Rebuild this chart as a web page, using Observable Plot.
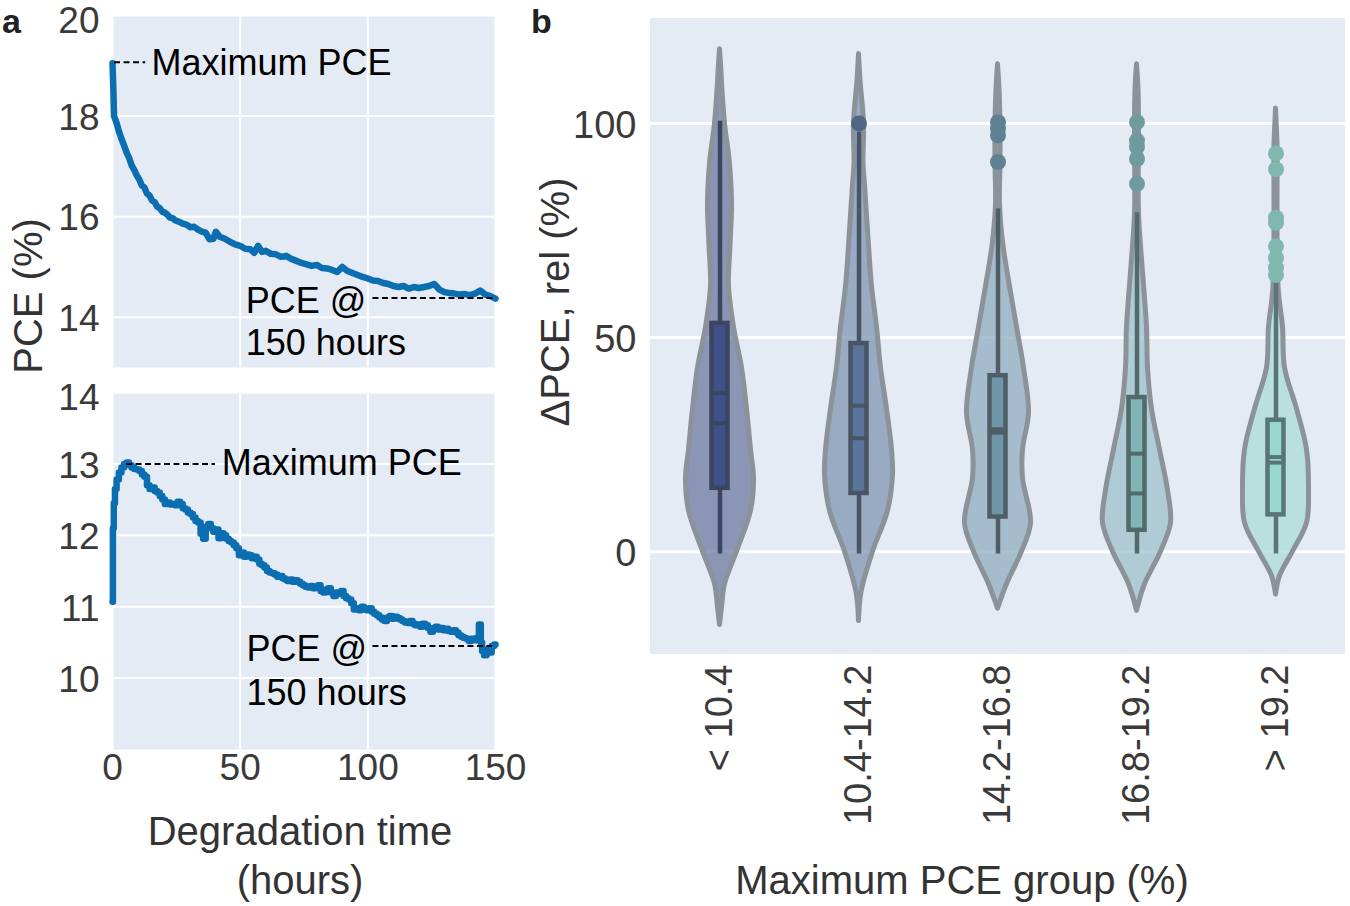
<!DOCTYPE html>
<html>
<head>
<meta charset="utf-8">
<script src="https://cdn.jsdelivr.net/npm/d3@7"></script>
<script src="https://cdn.jsdelivr.net/npm/@observablehq/plot@0.6"></script>
<style>
  body { margin: 0; background: white; }
  #wrap { position: relative; width: 1350px; height: 906px; background: white; overflow: hidden;
          font-family: "Liberation Sans", Arial, sans-serif; color: #333; }
  .lbl { position: absolute; white-space: nowrap; line-height: 1; transform: translate(-50%, -50%); font-size: 40px; }
  .rot { transform: translate(-50%, -50%) rotate(-90deg); }
  .panel { position: absolute; font-weight: bold; font-size: 34px; color: #222; line-height: 1; }
</style>
</head>
<body>
<div id="wrap">
  <div class="panel" style="left:2px; top:4px;">a</div>
  <div class="panel" style="left:531px; top:4px;">b</div>
  <div class="lbl rot" style="left:28px; top:296px;">PCE (%)</div>
  <div class="lbl" style="left:300px; top:831px;">Degradation time</div>
  <div class="lbl" style="left:300px; top:880px;">(hours)</div>
  <div class="lbl rot" style="left:555px; top:302px;">ΔPCE, rel (%)</div>
  <div class="lbl" style="left:962px; top:880px;">Maximum PCE group (%)</div>
</div>
<script>
// ---------------- Panel a data ----------------
const topTime = [0,0.3,0.6,1.5,2.5,3.5,4.5,5.5,6.5,7.5,8.5,9.5,10.5,11.5,12.5,13.5,14.5,15.5,16.5,17.5,18.5,19.5,20.5,21.5,22.5,23.5,24.5,26,27.5,29,30.5,32,33.5,35,36.5,38,39.5,40.5,42,44,46,48,50,52,54,55.5,57,58.5,60,62,64,66,68,70,72,74,76,78,80,82,84,86,88,90,92,94,96,98,100,102,104,106,108,110,112,114,116,118,120,122,124,126,128,130,132,134,136,138,140,142,144,146,148,150];
const topPCE = [19.05,18.6,18.0,17.88,17.7,17.55,17.42,17.28,17.17,17.02,16.93,16.82,16.74,16.62,16.58,16.46,16.42,16.32,16.29,16.2,16.17,16.1,16.08,16.04,15.98,15.97,15.93,15.9,15.86,15.84,15.79,15.8,15.74,15.7,15.68,15.55,15.56,15.7,15.6,15.56,15.5,15.45,15.42,15.36,15.35,15.28,15.42,15.3,15.32,15.26,15.25,15.2,15.22,15.16,15.12,15.08,15.05,15.02,15.04,14.98,14.97,14.94,14.9,15.0,14.92,14.88,14.84,14.8,14.77,14.73,14.72,14.68,14.66,14.62,14.6,14.62,14.57,14.6,14.58,14.6,14.62,14.66,14.55,14.5,14.48,14.47,14.45,14.46,14.44,14.47,14.53,14.45,14.42,14.37];

const botTime = [0,0.3,0.7,1.2,2,3,4,5,6,7,8,9,10,11,12,13,14,15,16,17,18,19,20,21,22,23,24,25,26,27,28,29,30,31,32,33,34,35,36,37,38,39,40,41,42,43,44,45,46,47,48,49,50,51,52,53,54,55,56,57,58,59,60,61,62,63,64,65,66,67,68,69,70,71,72,73,74,75,76,77,78,79,80,81,82,83,84,85,86,87,88,89,90,91,92,93,94,95,96,97,98,99,100,101,102,103,104,105,106,107,108,109,110,111,112,113,114,115,116,117,118,119,120,121,122,123,124,125,126,127,128,129,130,131,132,133,134,135,136,137,138,139,140,141,142,143,144,144.5,145,146,147,148,149,150];
const botPCE = [11.07,12.1,12.45,12.65,12.78,12.88,12.95,13.0,13.02,12.98,12.95,12.93,12.92,12.9,12.85,12.82,12.7,12.65,12.67,12.62,12.6,12.55,12.5,12.44,12.46,12.43,12.44,12.42,12.47,12.44,12.38,12.36,12.32,12.3,12.25,12.2,12.18,12.02,11.95,12.12,12.16,12.1,12.05,12.08,11.96,12.03,12.0,11.95,11.92,11.9,11.86,11.82,11.72,11.76,11.7,11.73,11.72,11.68,11.7,11.66,11.6,11.58,11.55,11.5,11.48,11.47,11.45,11.42,11.43,11.4,11.38,11.36,11.38,11.35,11.37,11.35,11.32,11.3,11.28,11.27,11.29,11.26,11.28,11.3,11.22,11.2,11.24,11.26,11.2,11.15,11.2,11.18,11.22,11.15,11.12,11.1,11.05,10.96,10.98,10.95,11.0,10.97,10.95,10.98,10.93,10.9,10.88,10.85,10.82,10.8,10.85,10.87,10.83,10.86,10.84,10.82,10.8,10.78,10.77,10.8,10.76,10.74,10.75,10.72,10.76,10.74,10.7,10.65,10.7,10.72,10.68,10.7,10.67,10.69,10.66,10.65,10.67,10.64,10.6,10.58,10.56,10.55,10.52,10.55,10.53,10.56,10.75,10.5,10.38,10.32,10.4,10.36,10.45,10.47];

// annotations: [time start, time end, value]
const topAnnotLines = [[0.8, 13, 19.07], [102, 149.5, 14.38]];
const topAnnotTexts = [[15.3, 19.04, "Maximum PCE"], [52.2, 14.32, "PCE @"], [52.2, 13.47, "150 hours"]];
const botAnnotLines = [[5.5, 40.3, 13.0], [102, 148.8, 10.45]];
const botAnnotTexts = [[42.8, 13.0, "Maximum PCE"], [52.5, 10.4, "PCE @"], [52.5, 9.79, "150 hours"]];

const topTicksY = [14, 16, 18, 20];
const botTicksY = [10, 11, 12, 13, 14];
const ticksX = [0, 50, 100, 150];

// ---------------- Panel b data ----------------
const groups = ["< 10.4", "10.4-14.2", "14.2-16.8", "16.8-19.2", "> 19.2"];
// violin outline: [value, half-width]
const violinG1 = [[117.3,0],[112,1.5],[109.5,2],[100,5],[90.5,10],[81,12],[71.4,10.5],[61.9,9],[52.4,14],[42.9,22],[33.3,27],[23.8,31],[17.1,34],[9.5,31],[0,17],[-7.6,5],[-13,2],[-17.1,0]];
const violinG2 = [[116.2,0],[110,1.5],[100,5],[90.5,4.5],[85.7,6],[71.4,10],[61.9,13],[52.4,18],[42.9,22],[33.3,28],[23.8,33],[18,34],[9.5,29],[0,14],[-9.5,2.5],[-16.2,0]];
const violinG3 = [[113.8,0],[108,1.5],[100,2.5],[90.5,2.5],[81,2],[71.4,5.5],[61.9,12],[52.4,19],[42.9,26],[32.4,31],[23.8,25],[17.1,25],[6.7,33],[0,24],[-7.6,9],[-13.3,0]];
const violinG4 = [[113.8,0],[108,1.5],[100,2],[79,2],[66.7,5.5],[52.4,10],[42.9,11],[33.3,15],[23.8,23],[14.3,31],[6.7,34],[0,24],[-7.6,8],[-13.8,0]];
const violinG5 = [[103.5,0],[98,1],[95.2,1.5],[61.9,2.5],[52.4,7],[42.9,9],[33.3,21],[23.8,31],[14.3,33],[6.7,31],[0,17],[-5.7,4],[-10,0]];
const q1 = [14.8, 13.6, 8.1, 5.0, 8.6];
const q3 = [53.3, 48.6, 41.1, 36.0, 30.7];
const medians = [30.0, 26.5, 27.8, 13.6, 20.8];
const means = [37.0, 34.1, 28.6, 22.9, 22.1];
const whiskerLow = [0, 0, 0, 0, 0];
const whiskerHigh = [100, 97.5, 79.5, 78.6, 62.4];
const outliersG1 = [];
const outliersG2 = [100];
const outliersG3 = [100.3, 98.8, 97.2, 91.0];
const outliersG4 = [100.3, 96.0, 94.5, 91.7, 85.9];
const outliersG5 = [93.0, 89.3, 78.0, 76.8, 71.3, 68.6, 66.3, 64.6];
const yTicksB = [0, 50, 100];

// ---------------- styles ----------------
const bg = "#e5ebf5";
const lineBlue = "#0b6eb0";
const violinFill = ["#6c78a0", "#7d96b2", "#8eacbd", "#9cc0c9", "#a9dcd5"];
const boxFill = ["#40508a", "#5a7599", "#6e95a8", "#82b5b6", "#98d8cc"];
const boxStroke = ["#3b4560", "#475567", "#4f5e66", "#536a6b", "#5a7575"];
const dotFill = ["#3f5186", "#4f6886", "#5e8294", "#6e9c9e", "#80b8ae"];
const font = "Liberation Sans, Arial, sans-serif";
const W = 1350, H = 906;

const wrap = document.getElementById("wrap");
const svgStyle = {position: "absolute", left: "0px", top: "0px", background: "transparent", fontFamily: font, overflow: "visible"};
const fmt = d => String(d);

// ---------------- Panel a ----------------
function linePanel({time, pce, domainY, ticksY, top, bottom, showX, lines, texts, curve}) {
  const rows = time.map((t, i) => ({t, v: pce[i]}));
  const lineRows = lines.map(([t1, t2, v]) => ({t1, t2, v}));
  const textRows = texts.map(([t, v, s]) => ({t, v, s}));
  const yMax = domainY[1];
  const inner = ticksY.filter(d => d !== yMax);
  const edge = ticksY.filter(d => d === yMax);
  const axisOpts = {tickSize: 0, tickPadding: 13, fontSize: 37, fill: "#3a3a3a", label: null, tickFormat: fmt};
  const marks = [
    Plot.frame({fill: bg, stroke: null}),
    Plot.gridX(ticksX, {stroke: "white", strokeOpacity: 1, strokeWidth: 2}),
    Plot.gridY(ticksY, {stroke: "white", strokeOpacity: 1, strokeWidth: 2}),
    Plot.axisY(inner, {...axisOpts, dy: 2}),
    Plot.axisY(edge, {...axisOpts, dy: 6}),
    Plot.line(rows, {x: "t", y: "v", stroke: lineBlue, strokeWidth: 6.5, curve}),
    Plot.ruleY(lineRows, {y: "v", x1: "t1", x2: "t2", stroke: "black", strokeWidth: 2, strokeDasharray: "6,3.5"}),
    Plot.text(textRows, {x: "t", y: "v", text: "s", textAnchor: "start", lineAnchor: "middle", fontSize: 36, fill: "black"})
  ];
  if (showX) marks.push(Plot.axisX(ticksX, {tickSize: 0, tickPadding: 4, fontSize: 37, fill: "#3a3a3a", label: null, tickFormat: fmt}));
  return Plot.plot({
    width: W, height: H,
    marginLeft: 112, marginRight: W - 495, marginTop: top, marginBottom: H - bottom,
    style: svgStyle,
    x: {domain: [0, 150], axis: null},
    y: {domain: domainY, axis: null},
    marks
  });
}

wrap.appendChild(linePanel({time: topTime, pce: topPCE, domainY: [13, 20], ticksY: topTicksY, top: 15, bottom: 367, showX: false, lines: topAnnotLines, texts: topAnnotTexts, curve: "linear"}));
wrap.appendChild(linePanel({time: botTime, pce: botPCE, domainY: [9, 14], ticksY: botTicksY, top: 392, bottom: 749, showX: true, lines: botAnnotLines, texts: botAnnotTexts, curve: "step"}));

// ---------------- Panel b ----------------
const violins = [violinG1, violinG2, violinG3, violinG4, violinG5];
const outliers = [outliersG1, outliersG2, outliersG3, outliersG4, outliersG5];
const violinRows = violins.flatMap((prof, i) => prof.map(([v, w]) => ({group: groups[i], i, v, w})));
const statRows = groups.map((group, i) => ({group, i, q1: q1[i], q3: q3[i], med: medians[i], mean: means[i], lo: whiskerLow[i], hi: whiskerHigh[i]}));
const centerRows = statRows.flatMap(d => [{group: d.group, i: d.i, y: d.med}, {group: d.group, i: d.i, y: d.mean}]);
const outlierRows = outliers.flatMap((arr, i) => arr.map(v => ({group: groups[i], i, v})));
const boxHalf = 8;
const facetW = 139;
const bLeft = 650, bTop = 18, bBottom = 654;

// single continuous background behind panel b (avoids facet seams)
const bgB = document.createElement("div");
Object.assign(bgB.style, {position: "absolute", left: bLeft + "px", top: bTop + "px", width: (5 * facetW) + "px", height: (bBottom - bTop) + "px", background: bg});
wrap.appendChild(bgB);

const plotB = Plot.plot({
  width: W, height: H,
  marginLeft: bLeft, marginRight: W - bLeft - 5 * facetW, marginTop: bTop, marginBottom: H - bBottom,
  style: svgStyle,
  x: {domain: [-facetW / 2, facetW / 2], axis: null},
  y: {domain: [-24, 124.5], axis: null},
  fx: {domain: groups, padding: 0, axis: null},
  color: {type: "identity"},
  marks: [
    Plot.gridY(yTicksB, {stroke: "white", strokeOpacity: 1, strokeWidth: 3}),
    Plot.axisY(yTicksB, {tickSize: 0, tickPadding: 14, fontSize: 38, fill: "#3a3a3a", label: null, tickFormat: fmt, dy: 2}),
    Plot.axisFx({anchor: "bottom", tickRotate: -90, tickSize: 0, tickPadding: 10, fontSize: 38, fill: "#3a3a3a", label: null}),
    Plot.areaX(violinRows, {fx: "group", y: "v", x1: d => -d.w, x2: "w", z: "group",
      fill: d => violinFill[d.i], fillOpacity: 0.75, curve: "catmull-rom"}),
    Plot.areaX(violinRows, {fx: "group", y: "v", x1: d => -d.w, x2: "w", z: "group",
      fill: "none", stroke: "#8c9299", strokeWidth: 5, curve: "catmull-rom"}),
    Plot.ruleX(statRows, {fx: "group", x: () => 0, y1: "lo", y2: "hi", stroke: d => boxStroke[d.i], strokeWidth: 4.5, strokeLinecap: "square"}),
    Plot.rect(statRows, {fx: "group", x1: () => -boxHalf, x2: () => boxHalf, y1: "q1", y2: "q3",
      fill: d => boxFill[d.i], stroke: d => boxStroke[d.i], strokeWidth: 4.5}),
    Plot.ruleY(centerRows, {fx: "group", y: "y", x1: () => -boxHalf, x2: () => boxHalf, stroke: d => boxStroke[d.i], strokeWidth: 4}),
    Plot.dot(outlierRows, {fx: "group", x: () => 0, y: "v", r: 8, fill: d => dotFill[d.i], stroke: null})
  ]
});
wrap.appendChild(plotB);
</script>
</body>
</html>
